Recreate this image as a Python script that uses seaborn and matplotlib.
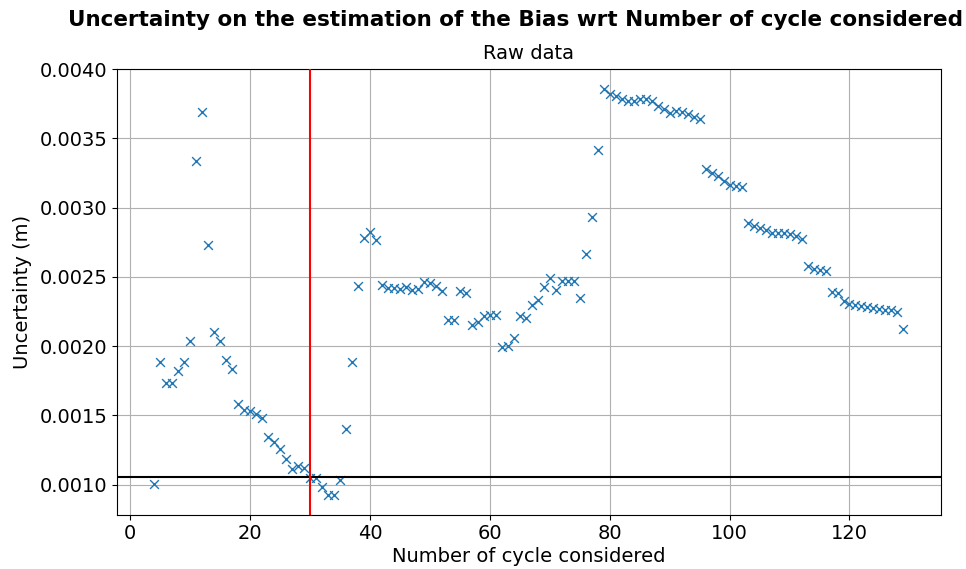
import numpy as np
import pandas as pd
import matplotlib
matplotlib.use("Agg")
import matplotlib.pyplot as plt
import seaborn as sns

# Number of cycles used for each estimate
cycles = list(range(4, 130))

# Uncertainty on the bias estimate (m) for each number of cycles
uncertainty = [
    0.001007, 0.001883, 0.001733, 0.001733, 0.001818, 0.001885, 0.002039,
    0.003334, 0.003690, 0.002727, 0.002099, 0.002039, 0.001902, 0.001837,
    0.001582, 0.001541, 0.001529, 0.001510, 0.001481, 0.001341, 0.001305,
    0.001257, 0.001187, 0.001113, 0.001137, 0.001116, 0.001048, 0.001048,
    0.000980, 0.000927, 0.000927, 0.001036, 0.001401, 0.001883, 0.002431,
    0.002780, 0.002821, 0.002768, 0.002443, 0.002417, 0.002417, 0.002412,
    0.002424, 0.002402, 0.002412, 0.002462, 0.002455, 0.002431, 0.002400,
    0.002186, 0.002186, 0.002400, 0.002383, 0.002154, 0.002174, 0.002219,
    0.002224, 0.002227, 0.001993, 0.002003, 0.002058, 0.002215, 0.002203,
    0.002294, 0.002335, 0.002424, 0.002491, 0.002407, 0.002472, 0.002472,
    0.002472, 0.002347, 0.002667, 0.002936, 0.003418, 0.003856, 0.003822,
    0.003803, 0.003783, 0.003767, 0.003767, 0.003783, 0.003783, 0.003771,
    0.003731, 0.003714, 0.003682, 0.003699, 0.003690, 0.003678, 0.003658,
    0.003639, 0.003278, 0.003249, 0.003231, 0.003189, 0.003165, 0.003153,
    0.003146, 0.002888, 0.002864, 0.002852, 0.002835, 0.002816, 0.002816,
    0.002816, 0.002811, 0.002797, 0.002773, 0.002580, 0.002556, 0.002551,
    0.002544, 0.002390, 0.002383, 0.002323, 0.002304, 0.002294, 0.002287,
    0.002282, 0.002275, 0.002268, 0.002263, 0.002258, 0.002246, 0.002123,
]

# Reference levels
threshold_uncertainty = 0.001055
chosen_cycles = 30

df = pd.DataFrame({"cycles": cycles, "uncertainty": uncertainty})

fig = plt.figure(figsize=(9.66, 5.69), dpi=100)
ax = fig.add_axes([0.121, 0.095, 0.853, 0.784])

sns.scatterplot(data=df, x="cycles", y="uncertainty", marker="x",
                color="#1f77b4", s=40, linewidth=1.0, ax=ax, zorder=3)

ax.axhline(threshold_uncertainty, color="black", linewidth=1.5, zorder=4)
ax.axvline(chosen_cycles, color="red", linewidth=1.5, zorder=4)

ax.grid(True, color="#b0b0b0", linewidth=0.8)
ax.set_axisbelow(True)
ax.margins(x=0.05, y=0.05)

ax.set_xlabel("Number of cycle considered", fontsize=14, labelpad=3)
ax.set_ylabel("Uncertainty (m)", fontsize=14, labelpad=6)
ax.tick_params(labelsize=14, pad=3)
ax.set_title("Raw data", fontsize=14, pad=7)
fig.suptitle("Uncertainty on the estimation of the Bias wrt Number of cycle considered",
             fontsize=15.5, fontweight="bold", x=0.534, y=0.982)

fig.savefig("out.png", dpi=100)
